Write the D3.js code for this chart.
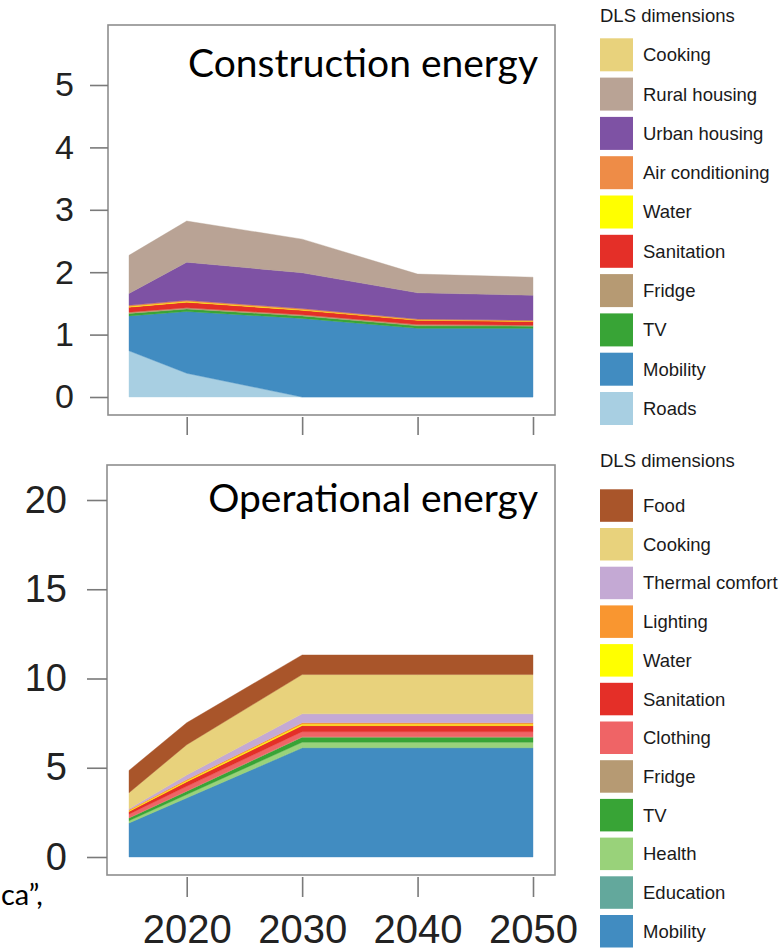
<!DOCTYPE html>
<html>
<head>
<meta charset="utf-8">
<script src="https://cdn.jsdelivr.net/npm/d3@7"></script>
<style>
  body { margin: 0; background: #fff; }
  svg { display: block; }
  .tick line { stroke: #7a7a7a; stroke-width: 1.6; }
  .tick text { fill: #222; font-family: "Liberation Sans", Arial, Helvetica, sans-serif; }
</style>
</head>
<body>
<svg id="chart" width="778" height="951"></svg>
<script>
// ---- data ----
const years = [2015, 2020, 2030, 2040, 2050];
const xTickYears = [2020, 2030, 2040, 2050];
const topTicks = [0, 1, 2, 3, 4, 5];
const bottomTicks = [0, 5, 10, 15, 20];

// Construction energy per DLS dimension (stacked bottom -> top)
const constructionKeys = ["Roads", "Mobility", "TV", "Fridge", "Sanitation", "Water",
                          "Air conditioning", "Urban housing", "Rural housing", "Cooking"];
const conRoads        = [0.74, 0.38, 0.00, 0.00, 0.00];
const conMobility     = [0.56, 0.99, 1.26, 1.10, 1.10];
const conTV           = [0.04, 0.04, 0.04, 0.04, 0.035];
const conFridge       = [0.02, 0.02, 0.02, 0.02, 0.015];
const conSanitation   = [0.08, 0.09, 0.07, 0.07, 0.06];
const conWater        = [0.01, 0.01, 0.01, 0.005, 0.005];
const conAirCond      = [0.02, 0.02, 0.02, 0.015, 0.015];
const conUrbanHousing = [0.19, 0.61, 0.57, 0.42, 0.40];
const conRuralHousing = [0.61, 0.66, 0.54, 0.30, 0.29];
const conCooking      = [0.00, 0.00, 0.00, 0.00, 0.00];

// Operational energy per DLS dimension (stacked bottom -> top)
const operationalKeys = ["Mobility", "Education", "Health", "TV", "Fridge", "Clothing",
                         "Sanitation", "Water", "Lighting", "Thermal comfort", "Cooking", "Food"];
const opMobility   = [1.90, 3.30, 6.10, 6.10, 6.10];
const opEducation  = [0.01, 0.02, 0.03, 0.03, 0.03];
const opHealth     = [0.12, 0.18, 0.30, 0.30, 0.30];
const opTV         = [0.15, 0.18, 0.28, 0.28, 0.28];
const opFridge     = [0.02, 0.02, 0.03, 0.03, 0.03];
const opClothing   = [0.20, 0.26, 0.28, 0.28, 0.28];
const opSanitation = [0.15, 0.25, 0.34, 0.34, 0.34];
const opWater      = [0.04, 0.06, 0.08, 0.08, 0.08];
const opLighting   = [0.06, 0.07, 0.08, 0.08, 0.08];
const opThermal    = [0.05, 0.25, 0.50, 0.50, 0.50];
const opCooking    = [0.90, 1.70, 2.20, 2.20, 2.20];
const opFood       = [1.25, 1.23, 1.10, 1.10, 1.10];

// ---- colours ----
const palette = {
  "Food": "#a9552a",
  "Cooking": "#e8d27c",
  "Thermal comfort": "#c4a9d4",
  "Lighting": "#f99630",
  "Water": "#ffff00",
  "Sanitation": "#e42f28",
  "Clothing": "#ef6466",
  "Fridge": "#b69a73",
  "TV": "#38a436",
  "Health": "#99d27a",
  "Education": "#63a89c",
  "Mobility": "#418cc1",
  "Roads": "#a8cfe2",
  "Urban housing": "#7e52a4",
  "Rural housing": "#b9a395",
  "Air conditioning": "#ee8c47"
};

// ---- build row tables for d3.stack ----
const conSeries = {
  "Roads": conRoads, "Mobility": conMobility, "TV": conTV, "Fridge": conFridge,
  "Sanitation": conSanitation, "Water": conWater, "Air conditioning": conAirCond,
  "Urban housing": conUrbanHousing, "Rural housing": conRuralHousing, "Cooking": conCooking
};
const opSeries = {
  "Mobility": opMobility, "Education": opEducation, "Health": opHealth, "TV": opTV,
  "Fridge": opFridge, "Clothing": opClothing, "Sanitation": opSanitation, "Water": opWater,
  "Lighting": opLighting, "Thermal comfort": opThermal, "Cooking": opCooking, "Food": opFood
};
function rows(keys, series) {
  return years.map((yr, i) => {
    const r = { year: yr };
    keys.forEach(k => r[k] = series[k][i]);
    return r;
  });
}

const svg = d3.select("#chart");
const FONT = '"Liberation Sans", Arial, Helvetica, sans-serif';
const TITLE_FONT = "Lato, 'Open Sans', sans-serif";

const x = d3.scaleLinear().domain([2015, 2050]).range([129, 533]);

function panel(cfg) {
  const g = svg.append("g");
  const y = d3.scaleLinear().domain(cfg.domain).range(cfg.yRange);
  const stacked = d3.stack().keys(cfg.keys)(rows(cfg.keys, cfg.series));
  const area = d3.area()
    .x(d => x(d.data.year))
    .y0(d => y(d[0]))
    .y1(d => y(d[1]));

  g.selectAll("path.layer")
    .data(stacked)
    .join("path")
    .attr("class", "layer")
    .attr("fill", d => palette[d.key])
    // a hairline outline closes seams between layers; skip empty layers
    .attr("stroke", d => d3.max(cfg.series[d.key]) > 0 ? palette[d.key] : "none")
    .attr("stroke-width", 0.4)
    .attr("d", area);

  // frame
  g.append("rect")
    .attr("x", cfg.box.x0).attr("y", cfg.box.y0)
    .attr("width", cfg.box.x1 - cfg.box.x0)
    .attr("height", cfg.box.y1 - cfg.box.y0)
    .attr("fill", "none")
    .attr("stroke", "#8e8e8e")
    .attr("stroke-width", 1.6);

  // y axis
  const ya = g.append("g")
    .attr("transform", `translate(${cfg.box.x0},0)`)
    .call(d3.axisLeft(y).tickValues(cfg.yTicks).tickFormat(d3.format("d"))
      .tickSize(cfg.yTickLen).tickPadding(cfg.yPad));
  ya.select(".domain").remove();
  ya.selectAll(".tick text").attr("font-size", cfg.yFont).attr("font-family", FONT);

  // x axis
  const xa = g.append("g")
    .attr("transform", `translate(0,${cfg.box.y1 + 2})`)
    .call(d3.axisBottom(x).tickValues(xTickYears).tickSize(cfg.xTickLen)
      .tickPadding(18).tickFormat(cfg.xLabels ? d3.format("d") : () => ""));
  xa.select(".domain").remove();
  xa.selectAll(".tick text").attr("font-size", 40).attr("font-family", FONT);

  // panel title
  g.append("text")
    .attr("x", 538).attr("y", cfg.titleY)
    .attr("text-anchor", "end")
    .attr("font-family", TITLE_FONT)
    .attr("font-size", 39)
    .attr("fill", "#000")
    .text(cfg.title);

  // legend
  const lg = svg.append("g");
  lg.append("text")
    .attr("x", 600).attr("y", cfg.legend.titleY)
    .attr("font-family", FONT).attr("font-size", 18.5).attr("fill", "#1a1a1a")
    .text("DLS dimensions");
  const items = cfg.keys.slice().reverse();
  const it = lg.selectAll("g.item").data(items).join("g")
    .attr("class", "item")
    .attr("transform", (d, i) => `translate(600,${cfg.legend.top + i * cfg.legend.step})`);
  it.append("rect")
    .attr("width", 33).attr("height", cfg.legend.size)
    .attr("fill", d => palette[d]);
  it.append("text")
    .attr("x", 43).attr("y", cfg.legend.size / 2)
    .attr("dy", "0.35em")
    .attr("font-family", FONT).attr("font-size", 18.5).attr("fill", "#1a1a1a")
    .text(d => d);
}

panel({
  keys: constructionKeys, series: conSeries,
  domain: [0, 5], yRange: [397, 85], yTicks: topTicks,
  box: { x0: 108, x1: 555, y0: 25, y1: 415 },
  yTickLen: 18, yPad: 16, yFont: 34,
  xTickLen: 18, xLabels: false,
  title: "Construction energy", titleY: 77,
  legend: { titleY: 22, top: 38.3, step: 39.3, size: 33 }
});

panel({
  keys: operationalKeys, series: opSeries,
  domain: [0, 20], yRange: [857, 500], yTicks: bottomTicks,
  box: { x0: 107, x1: 555, y0: 465, y1: 875 },
  yTickLen: 20, yPad: 20, yFont: 38,
  xTickLen: 20, xLabels: true,
  title: "Operational energy", titleY: 512,
  legend: { titleY: 467, top: 489.3, step: 38.7, size: 32.5 }
});

// trailing fragment of a caption on the left margin
svg.append("text")
  .attr("x", 1).attr("y", 905)
  .attr("font-family", TITLE_FONT)
  .attr("font-size", 29)
  .attr("fill", "#000")
  .text("ca”,");
</script>
</body>
</html>
